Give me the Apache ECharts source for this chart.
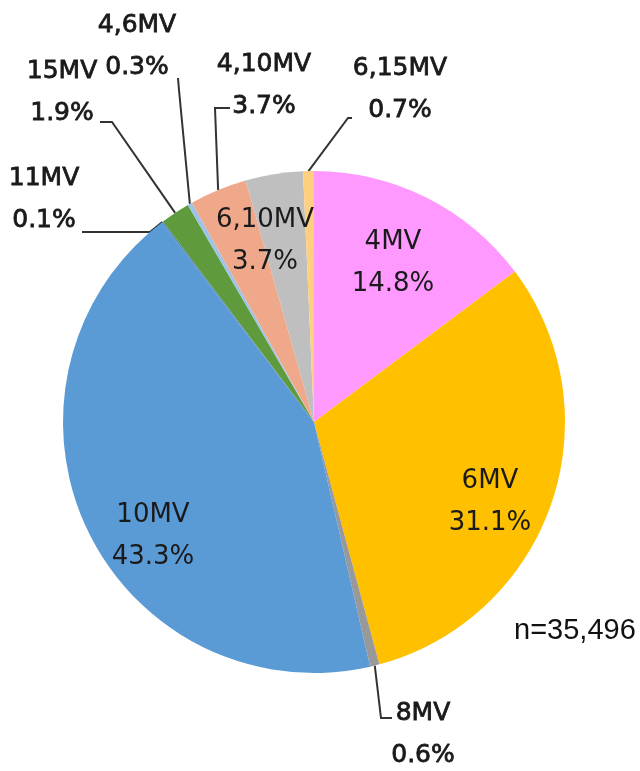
<html>
<head>
<meta charset="utf8">
<script src="https://cdn.jsdelivr.net/npm/echarts@6/dist/echarts.min.js"></script>
<style>
  body { margin: 0; background: #fff; }
</style>
</head>
<body>
<div id="echarts-main" style="width:640px;height:771px;"></div>
<script type="text/javascript">
	// beam energies, clockwise from 12 o'clock
	var names = ['4MV', '6MV', '8MV', '10MV', '11MV', '15MV', '4,6MV', '4,10MV', '6,10MV', '6,15MV'];
	var shares = [14.8, 31.1, 0.6, 43.3, 0.1, 1.9, 0.3, 3.7, 3.7, 0.7];
	var colors = ['#FF99FF', '#FFC000', '#999999', '#5B9BD5', '#4F86C6', '#5F9A3C', '#9DC3E6', '#F0A88A', '#BFBFBF', '#FFCF80'];
	var total = 'n=35,496';

	// where each label goes (label centre), and the leader line bend/end for outside ones
	var labelAt = {
		'4MV':   { x: 393, y: 263, inside: true },
		'6MV':   { x: 490, y: 502, inside: true },
		'10MV':  { x: 153, y: 536, inside: true },
		'6,10MV':{ x: 265, y: 241, inside: true },
		'8MV':   { x: 423, y: 734, line: [[381, 718], [392, 718]] },
		'11MV':  { x: 44,  y: 199, line: [[150, 232], [82, 232]] },
		'15MV':  { x: 62,  y: 92,  line: [[112, 122], [100, 122]] },
		'4,6MV': { x: 137, y: 46,  line: [[179, 90], [178, 78]] },
		'4,10MV':{ x: 264, y: 85,  line: [[215, 108], [230, 108]] },
		'6,15MV':{ x: 400, y: 89,  line: [[348, 118], [352, 118]] }
	};

	var myChart = echarts.init(document.getElementById('echarts-main'));

	var data = [];
	for (var i = 0; i < names.length; i++) {
		var pos = labelAt[names[i]];
		data.push({
			name: names[i],
			value: shares[i],
			itemStyle: { color: colors[i] },
			label: pos.inside ? { position: 'inside', fontSize: 26, textBorderWidth: 0 } : { position: 'outside' },
			labelLine: { show: !pos.inside }
		});
	}

	var option = {
		animation: false,
		graphic: [{
			type: 'text',
			left: 514,
			top: 616,
			style: { text: total, font: '29px "Liberation Sans"', fill: '#111' }
		}],
		series: [{
			type: 'pie',
			center: [314, 422],
			radius: 251,
			startAngle: 90,
			clockwise: true,
			data: data,
			label: {
				show: true,
				formatter: function (p) { return p.name + '\n' + p.value.toFixed(1) + '%'; },
				fontFamily: 'DejaVu Sans',
				fontSize: 25,
				color: '#1a1a1a',
				textBorderColor: '#1a1a1a',
				textBorderWidth: 0.8,
				lineHeight: 42,
				align: 'center',
				overflow: 'none',
				width: 200
			},
			labelLine: {
				show: true,
				length: 10,
				length2: 10,
				lineStyle: { color: '#333', width: 2 }
			},
			labelLayout: function (p) {
				var pos = labelAt[names[p.dataIndex]];
				var out = {
					x: pos.x,
					y: pos.y,
					align: 'center',
					verticalAlign: 'middle'
				};
				if (!pos.inside && p.labelLinePoints) {
					out.labelLinePoints = [p.labelLinePoints[0], pos.line[0], pos.line[1]];
				}
				return out;
			}
		}]
	};
	myChart.setOption(option);
</script>
</body>
</html>
